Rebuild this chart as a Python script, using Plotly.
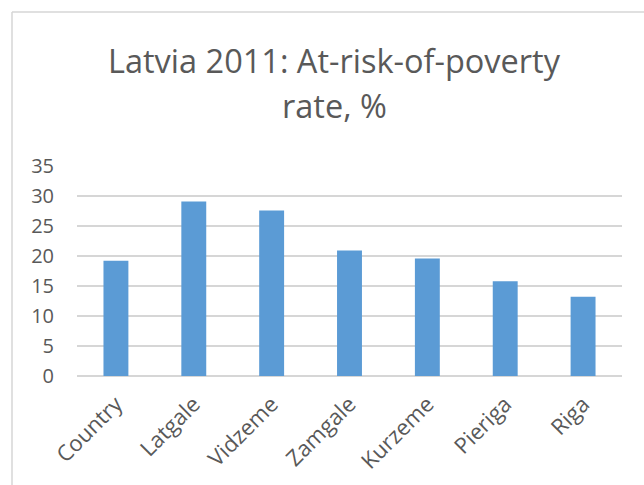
import plotly.graph_objects as go

categories = ["Country", "Latgale", "Vidzeme", "Zamgale", "Kurzeme", "Pieriga", "Riga"]
values = [19.2, 29.1, 27.6, 20.9, 19.6, 15.8, 13.2]
y_ticks = [0, 5, 10, 15, 20, 25, 30, 35]
title_line1 = "Latvia 2011: At-risk-of-poverty"
title_line2 = "rate, %"

W, H = 644, 485
L, R, T, B = 77, 622, 166, 376  # plot area in pixels

def px(x):
    return (x - L) / (R - L)

def py(y):
    return (B - y) / (B - T)

FONT = "Open Sans"
GREY = "#595959"
GRID = "#D6D6D6"

fig = go.Figure(go.Bar(x=categories, y=values, marker_color="#5B9BD5",
                       marker_line_width=0))

fig.update_layout(
    width=W, height=H,
    margin=dict(l=L, r=W - R, t=T, b=H - B, pad=0, autoexpand=False),
    paper_bgcolor="white", plot_bgcolor="white",
    bargap=0.68,
    showlegend=False,
    font=dict(family=FONT, color=GREY),
)
fig.update_yaxes(range=[0, 35], tickvals=y_ticks, showgrid=True, gridcolor=GRID,
                 gridwidth=1.6, zeroline=True, zerolinecolor=GRID, zerolinewidth=1.6,
                 tickfont=dict(size=20, color=GREY, family=FONT), automargin=False,
                 ticks="", ticklabelstandoff=22, showline=False)
fig.update_xaxes(tickangle=-45, tickfont=dict(size=22, color=GREY, family=FONT),
                 ticks="", showline=False, ticklabelstandoff=10, automargin=False)

fig.add_annotation(text=title_line1, x=px(334), y=py(60), xref="paper", yref="paper",
                   showarrow=False, xanchor="center", yanchor="middle",
                   font=dict(size=32.5, color=GREY, family=FONT))
fig.add_annotation(text=title_line2, x=px(334), y=py(106), xref="paper", yref="paper",
                   showarrow=False, xanchor="center", yanchor="middle",
                   font=dict(size=32.5, color=GREY, family=FONT))

# chart-area border (left and top edges visible)
fig.add_shape(type="line", xref="paper", yref="paper", x0=px(12), x1=px(660),
              y0=py(12), y1=py(12), line=dict(color=GRID, width=1.5))
fig.add_shape(type="line", xref="paper", yref="paper", x0=px(12), x1=px(12),
              y0=py(12), y1=py(500), line=dict(color=GRID, width=1.5))

fig.write_html("out.html")
